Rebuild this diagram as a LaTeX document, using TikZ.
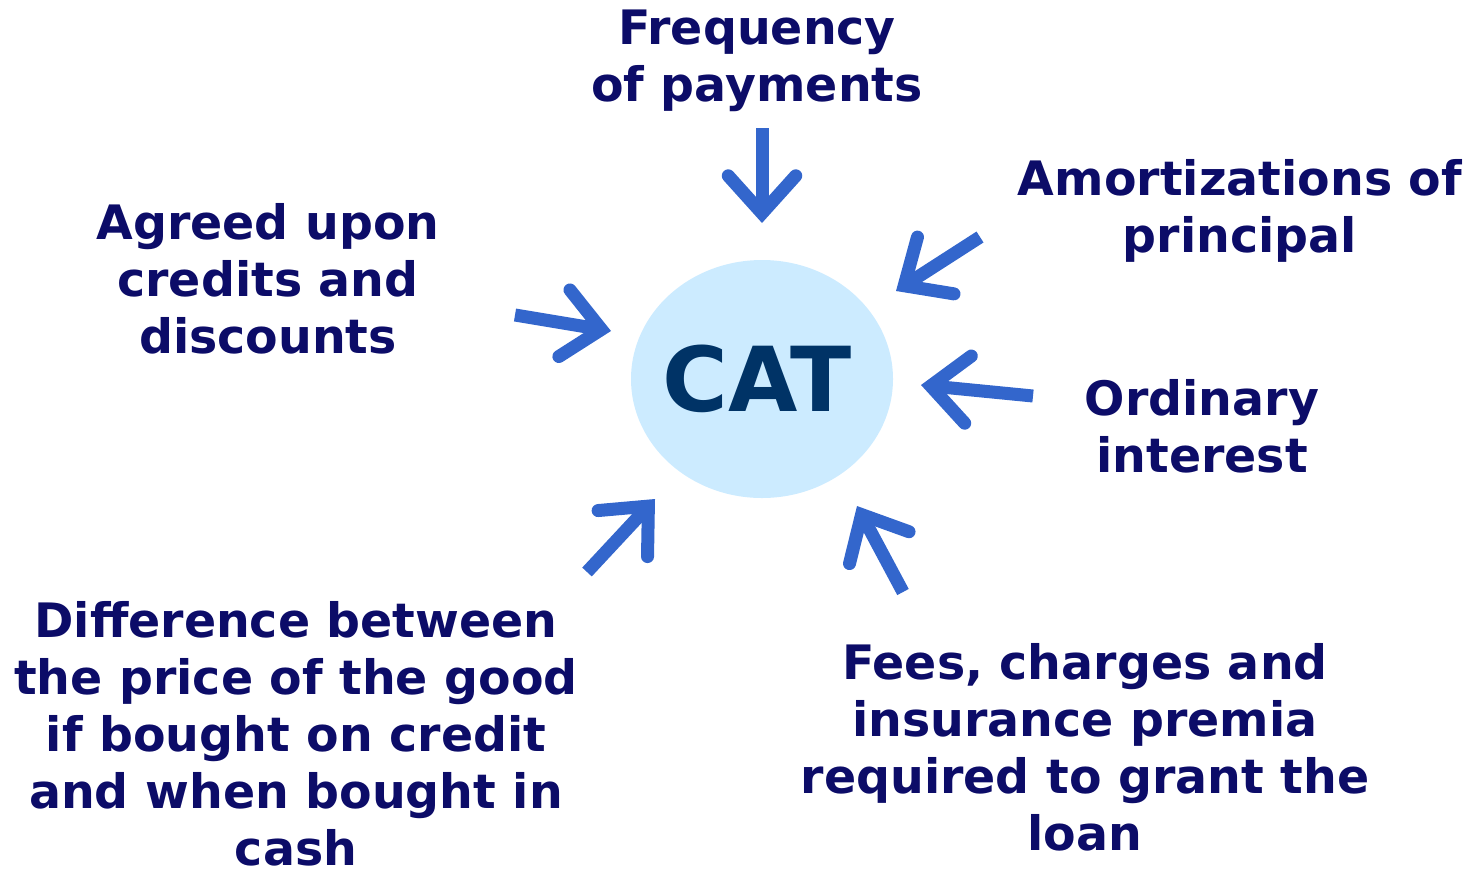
\documentclass[tikz,border=0pt]{standalone}
\usepackage{fontspec}
\setmainfont{DejaVu Sans}
\usepackage{xcolor}
\definecolor{mynavy}        {RGB}{12, 12, 104}
\definecolor{mydark}        {RGB}{0, 51, 102}
\definecolor{myarrow}       {RGB}{51, 102, 204}
\definecolor{mylight}       {RGB}{204, 235, 255}
\usetikzlibrary{arrows.meta, positioning, shapes.geometric}

\begin{document}
\begin{tikzpicture}[x=0.2mm, y=-0.2mm,
        every node/.style={font=\fontsize{27}{32.5}\selectfont\bfseries, text=mynavy, align=center, inner sep=0pt},
        pusharrow/.style={draw=myarrow, line width=7.4pt, -{Straight Barb[length=0.75cm, width=1.35cm, line width=7.4pt, line cap=round]}}]
        \useasboundingbox (0, 0) rectangle (1474, 868);
        \node[ellipse, fill=mylight, minimum width=262*0.2mm, minimum height=238*0.2mm] (cat) at (762, 379) {};
        \node[font=\fontsize{51}{57}\selectfont\bfseries, text=mydark] (catlabel) at (757, 379) {CAT};
        \node (freq) at (757, 61) {Frequency\\of payments};
        \node (amort) at (1240, 211) {Amortizations of\\principal};
        \node (agreed) at (268, 279) {Agreed upon\\credits and\\discounts};
        \node (ordinary) at (1202, 426) {Ordinary\\interest};
        \node (diff) at (296, 734) {Difference between\\the price of the good\\if bought on credit\\and when bought in\\cash};
        \node (fees) at (1085, 747) {Fees, charges and\\insurance premia\\required to grant the\\loan};
        % free ends of the arrows
        \coordinate (freq-s) at (762, 128);   \coordinate (freq-t) at (762, 223);
        \coordinate (amort-s) at (980, 237);  \coordinate (amort-t) at (896, 291);
        \coordinate (ord-s) at (1033, 396);   \coordinate (ord-t) at (921, 385);
        \coordinate (agr-s) at (515, 315);    \coordinate (agr-t) at (611, 331);
        \coordinate (diff-s) at (587, 572);   \coordinate (diff-t) at (655, 499);
        \coordinate (fees-s) at (903, 592);   \coordinate (fees-t) at (857, 506);
        \draw[pusharrow] (freq-s) -- (freq-t);
        \draw[pusharrow] (amort-s) -- (amort-t);
        \draw[pusharrow] (ord-s) -- (ord-t);
        \draw[pusharrow] (agr-s) -- (agr-t);
        \draw[pusharrow] (diff-s) -- (diff-t);
        \draw[pusharrow] (fees-s) -- (fees-t);
    \end{tikzpicture}
\end{document}
